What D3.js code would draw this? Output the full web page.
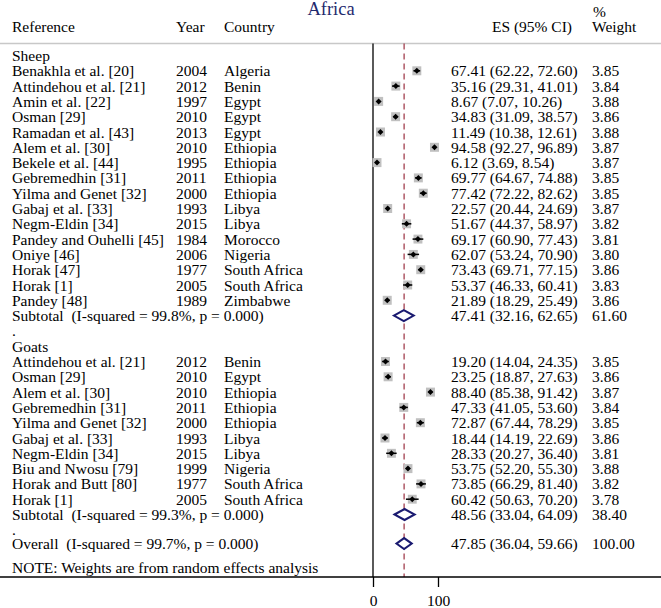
<!DOCTYPE html>
<html><head><meta charset="utf-8">
<script src="https://cdn.jsdelivr.net/npm/d3@7"></script>
<style>
html,body{margin:0;padding:0;background:#fff;}
svg{display:block;font-family:"Liberation Serif","Times New Roman",serif;}
svg text{white-space:pre;}
</style></head>
<body><svg id="c" width="661" height="608"></svg>
<script>
const title = "Africa";
const headers = ["Reference","Year","Country","ES (95% CI)","%","Weight"];
const groups = ["Sheep","Goats"];

const sheepRefs = ["Benakhla et al. [20]","Attindehou et al. [21]","Amin et al. [22]","Osman [29]","Ramadan et al. [43]","Alem et al. [30]","Bekele et al. [44]","Gebremedhin [31]","Yilma and Genet [32]","Gabaj et al. [33]","Negm-Eldin [34]","Pandey and Ouhelli [45]","Oniye [46]","Horak [47]","Horak [1]","Pandey [48]"];
const sheepYears = [2004,2012,1997,2010,2013,2010,1995,2011,2000,1993,2015,1984,2006,1977,2005,1989];
const sheepCountries = ["Algeria","Benin","Egypt","Egypt","Egypt","Ethiopia","Ethiopia","Ethiopia","Ethiopia","Libya","Libya","Morocco","Nigeria","South Africa","South Africa","Zimbabwe"];
const sheepES = [67.41,35.16,8.67,34.83,11.49,94.58,6.12,69.77,77.42,22.57,51.67,69.17,62.07,73.43,53.37,21.89];
const sheepLo = [62.22,29.31,7.07,31.09,10.38,92.27,3.69,64.67,72.22,20.44,44.37,60.90,53.24,69.71,46.33,18.29];
const sheepHi = [72.60,41.01,10.26,38.57,12.61,96.89,8.54,74.88,82.62,24.69,58.97,77.43,70.90,77.15,60.41,25.49];
const sheepW = [3.85,3.84,3.88,3.86,3.88,3.87,3.87,3.85,3.85,3.87,3.82,3.81,3.80,3.86,3.83,3.86];

const goatRefs = ["Attindehou et al. [21]","Osman [29]","Alem et al. [30]","Gebremedhin [31]","Yilma and Genet [32]","Gabaj et al. [33]","Negm-Eldin [34]","Biu and Nwosu [79]","Horak and Butt [80]","Horak [1]"];
const goatYears = [2012,2010,2010,2011,2000,1993,2015,1999,1977,2005];
const goatCountries = ["Benin","Egypt","Ethiopia","Ethiopia","Ethiopia","Libya","Libya","Nigeria","South Africa","South Africa"];
const goatES = [19.20,23.25,88.40,47.33,72.87,18.44,28.33,53.75,73.85,60.42];
const goatLo = [14.04,18.87,85.38,41.05,67.44,14.19,20.27,52.20,66.29,50.63];
const goatHi = [24.35,27.63,91.42,53.60,78.29,22.69,36.40,55.30,81.40,70.20];
const goatW = [3.85,3.86,3.87,3.84,3.85,3.86,3.81,3.88,3.82,3.78];

const subtotalLabels = ["Subtotal  (I-squared = 99.8%, p = 0.000)","Subtotal  (I-squared = 99.3%, p = 0.000)"];
const subtotalES = [47.41,48.56];
const subtotalLo = [32.16,33.04];
const subtotalHi = [62.65,64.09];
const subtotalW = [61.60,38.40];

const overallLabel = "Overall  (I-squared = 99.7%, p = 0.000)";
const overallES = 47.85, overallLo = 36.04, overallHi = 59.66, overallW = 100.00;
const note = "NOTE: Weights are from random effects analysis";
const tickValues = [0,100];

const svg = d3.select("#c");
const FS = 15.5;
const x = d3.scaleLinear().domain([0,100]).range([373,438]);
const yRow = i => 55.5 + i*15.3;
const fmt = d3.format(".2f");
const esText = (e,l,h) => `${fmt(e)} (${fmt(l)}, ${fmt(h)})`;

// build rows
const rows = [];
function addGroup(name, refs, years, countries, es, lo, hi, w, gi){
  rows.push({type:"label", text:name});
  refs.forEach((r,i)=>rows.push({type:"study", ref:r, year:years[i], country:countries[i], es:es[i], lo:lo[i], hi:hi[i], w:w[i]}));
  rows.push({type:"sub", ref:subtotalLabels[gi], es:subtotalES[gi], lo:subtotalLo[gi], hi:subtotalHi[gi], w:subtotalW[gi]});
  rows.push({type:"label", text:"."});
}
addGroup(groups[0], sheepRefs, sheepYears, sheepCountries, sheepES, sheepLo, sheepHi, sheepW, 0);
addGroup(groups[1], goatRefs, goatYears, goatCountries, goatES, goatLo, goatHi, goatW, 1);
rows.push({type:"sub", ref:overallLabel, es:overallES, lo:overallLo, hi:overallHi, w:overallW, overall:true});
rows.forEach((r,i)=>r.y=yRow(i) - (r.overall ? 1.5 : 0));

const topY = 43.5, axisY = 577;

// header
svg.append("text").attr("x",331).attr("y",9).attr("text-anchor","middle").attr("dominant-baseline","central")
  .attr("font-size",18.5).attr("fill","#1f2a6e").text(title);
const hY = 26;
const hdr = svg.append("g").attr("font-size",FS).attr("fill","#000").attr("dominant-baseline","central");
hdr.append("text").attr("x",12).attr("y",hY).text(headers[0]);
hdr.append("text").attr("x",176).attr("y",hY).text(headers[1]);
hdr.append("text").attr("x",224).attr("y",hY).text(headers[2]);
hdr.append("text").attr("x",572).attr("y",hY).attr("text-anchor","end").text(headers[3]);
hdr.append("text").attr("x",593).attr("y",11.5).text(headers[4]);
hdr.append("text").attr("x",592).attr("y",hY).text(headers[5]);

svg.append("line").attr("x1",0).attr("x2",661).attr("y1",topY).attr("y2",topY).attr("stroke","#c8c8c8").attr("stroke-width",1.5);

// zero line and overall dashed line
svg.append("line").attr("x1",x(0)).attr("x2",x(0)).attr("y1",topY).attr("y2",axisY).attr("stroke","#000").attr("stroke-width",1.3);
svg.append("line").attr("x1",x(overallES)).attr("x2",x(overallES)).attr("y1",topY).attr("y2",axisY)
  .attr("stroke","#9b3040").attr("stroke-width",1.2).attr("stroke-dasharray","6,4");

// text columns
const tg = svg.append("g").attr("font-size",FS).attr("fill","#000").attr("dominant-baseline","central");
rows.forEach(r=>{
  if(r.type==="label"){
    tg.append("text").attr("x",12).attr("y",r.y).text(r.text);
  } else {
    tg.append("text").attr("x",12).attr("y",r.y).text(r.ref);
    if(r.type==="study"){
      tg.append("text").attr("x",176).attr("y",r.y).text(r.year);
      tg.append("text").attr("x",224).attr("y",r.y).text(r.country);
    }
    tg.append("text").attr("x",451).attr("y",r.y).text(esText(r.es,r.lo,r.hi));
    tg.append("text").attr("x",592).attr("y",r.y).text(fmt(r.w));
  }
});
tg.append("text").attr("x",12).attr("y",567).text(note);

// study markers
const studies = rows.filter(r=>r.type==="study");
const side = d3.scaleSqrt().domain([0,3.88]).range([0,9]);
const mg = svg.append("g");
mg.selectAll("rect.w").data(studies).join("rect")
  .attr("x",d=>x(d.es)-side(d.w)/2).attr("y",d=>d.y-side(d.w)/2)
  .attr("width",d=>side(d.w)).attr("height",d=>side(d.w)).attr("fill","#c0c0c0");
mg.selectAll("line.ci").data(studies).join("line")
  .attr("x1",d=>x(d.lo)).attr("x2",d=>x(d.hi)).attr("y1",d=>d.y).attr("y2",d=>d.y)
  .attr("stroke","#000").attr("stroke-width",1.5);
mg.selectAll("path.pt").data(studies).join("path")
  .attr("d",d=>{const cx=x(d.es), cy=d.y, r=3;return `M${cx-r},${cy}L${cx},${cy-r}L${cx+r},${cy}L${cx},${cy+r}Z`;})
  .attr("fill","#000");

// diamonds
const subs = rows.filter(r=>r.type==="sub");
svg.append("g").selectAll("path").data(subs).join("path")
  .attr("d",d=>`M${x(d.lo)},${d.y}L${x(d.es)},${d.y-5.5}L${x(d.hi)},${d.y}L${x(d.es)},${d.y+5.5}Z`)
  .attr("fill","#fff").attr("stroke","#1a1a70").attr("stroke-width",2);

// axis
svg.append("line").attr("x1",0).attr("x2",661).attr("y1",axisY).attr("y2",axisY).attr("stroke","#000").attr("stroke-width",1.3);
const ax = svg.append("g").attr("transform",`translate(0,${axisY})`)
  .call(d3.axisBottom(x).tickValues(tickValues).tickSize(10).tickPadding(8).tickFormat(d3.format("d")));
ax.select(".domain").remove();
ax.selectAll("line").attr("stroke","#000").attr("stroke-width",1.3);
ax.selectAll("text").attr("font-size",FS).attr("font-family","'Liberation Serif','Times New Roman',serif").attr("fill","#000");
</script></body></html>
